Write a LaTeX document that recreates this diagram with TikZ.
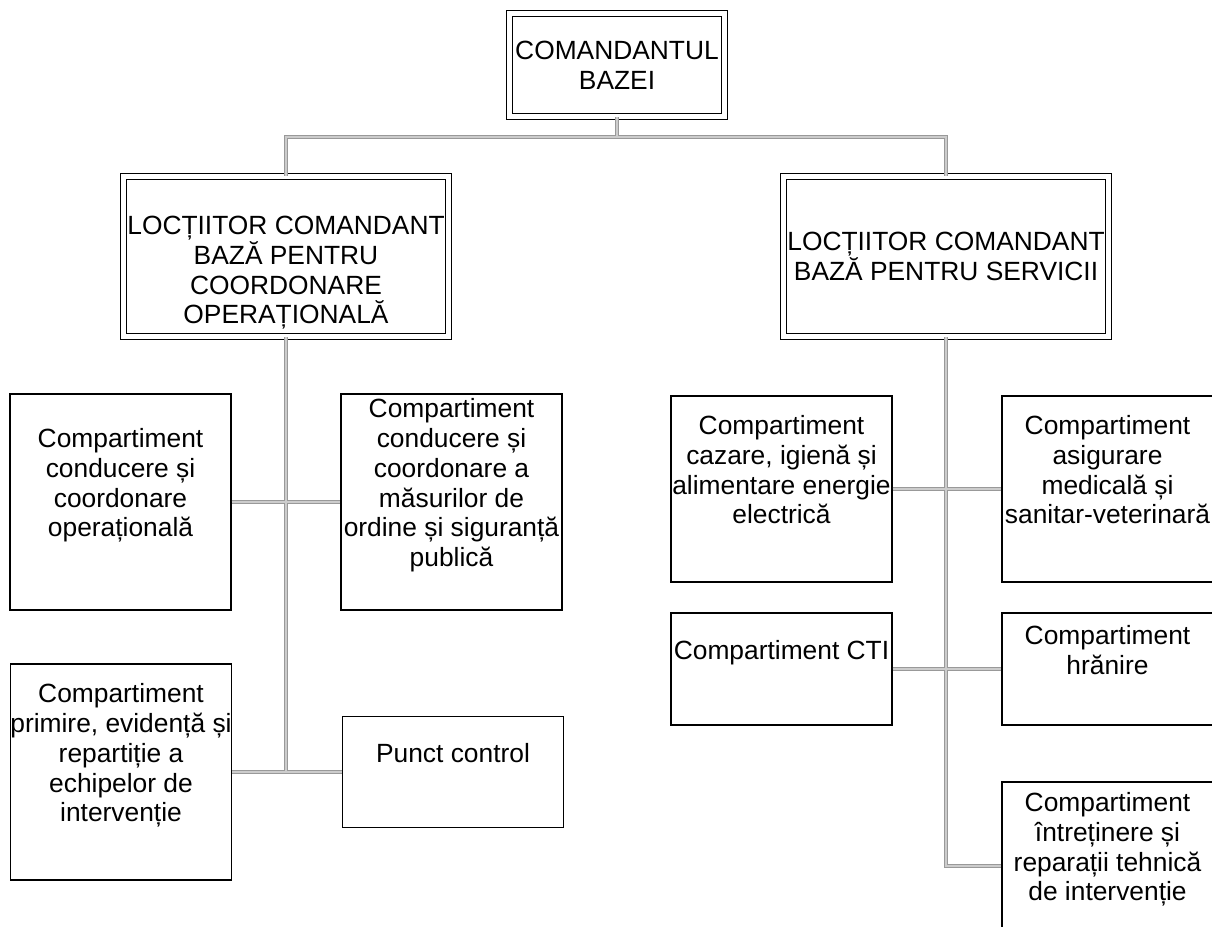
\documentclass[tikz,border=0pt]{standalone}
\usepackage{fontspec}
\setmainfont{Liberation Sans}
\begin{document}
\begin{tikzpicture}[
		unit/.style={draw, line width=0.8pt, align=center, inner sep=0pt, minimum width=4.42cm, font=\fontsize{15}{17}\selectfont},
		edge unit/.style={unit, minimum width=4.22cm},
		head/.style={unit, double, double distance=2.5pt},
		link/.style={draw=gray!80, double=gray!40, double distance=1.6pt, line width=0.6pt}]
		\useasboundingbox (0,0) rectangle (24.24,-18.54);
		% command
		\node[head, minimum width=4.3cm, minimum height=2.06cm] (cmd) at (12.34,-1.3) {COMANDANTUL\\BAZEI};
		\coordinate (bus) at (12.34,-2.74);
		
		% deputies
		\node[head, minimum width=6.5cm, minimum height=3.2cm] (locop) at (5.72,-5.13) {\strut\\LOCȚIITOR COMANDANT\\BAZĂ PENTRU\\COORDONARE\\OPERAȚIONALĂ};
		\node[head, minimum width=6.5cm, minimum height=3.2cm] (locsv) at (18.92,-5.13) {LOCȚIITOR COMANDANT\\BAZĂ PENTRU SERVICII};
		
		% compartments, left
		\node[unit, minimum height=4.32cm] (condop) at (2.41,-10.04) {Compartiment\\conducere și\\coordonare\\operațională\\\strut};
		\node[unit, minimum height=4.32cm] (ordine) at (9.03,-10.04) {Compartiment\\conducere și\\coordonare a\\măsurilor de\\ordine și siguranță\\publică\\\strut};
		\node[unit, minimum height=4.32cm] (primire) at (2.42,-15.44) {Compartiment\\primire, evidență și\\repartiție a\\echipelor de\\intervenție\\\strut};
		\node[unit, minimum height=2.22cm] (punct) at (9.06,-15.44) {Punct control\\\strut};
		
		% compartments, right
		\node[unit, minimum height=3.72cm] (cazare) at (15.63,-9.78) {Compartiment\\cazare, igienă și\\alimentare energie\\electrică\\\strut};
		\node[edge unit, minimum height=3.72cm] (asigurare) at (22.15,-9.78) {Compartiment\\asigurare\\medicală și\\sanitar-veterinară\\\strut};
		\node[unit, minimum height=2.24cm] (cti) at (15.63,-13.38) {Compartiment CTI\\\strut};
		\node[edge unit, minimum height=2.24cm] (hranire) at (22.15,-13.38) {Compartiment\\hrănire\\\strut};
		\node[edge unit, minimum height=3.36cm] (intretinere) at (22.15,-17.32) {Compartiment\\întreținere și\\reparații tehnică\\de intervenție\\\strut};
		
		% links
		\draw[link] (cmd.south) -- (bus)
			(locop.north) |- (bus -| locsv.north) -- (locsv.north)
			(locop.south) -- (locop.south |- punct.west)
			(condop.east) -- (ordine.west)
			(primire.east) -- (punct.west)
			(locsv.south) |- (intretinere.west)
			(cazare.east) -- (asigurare.west)
			(cti.east) -- (hranire.west);
	\end{tikzpicture}
\end{document}
